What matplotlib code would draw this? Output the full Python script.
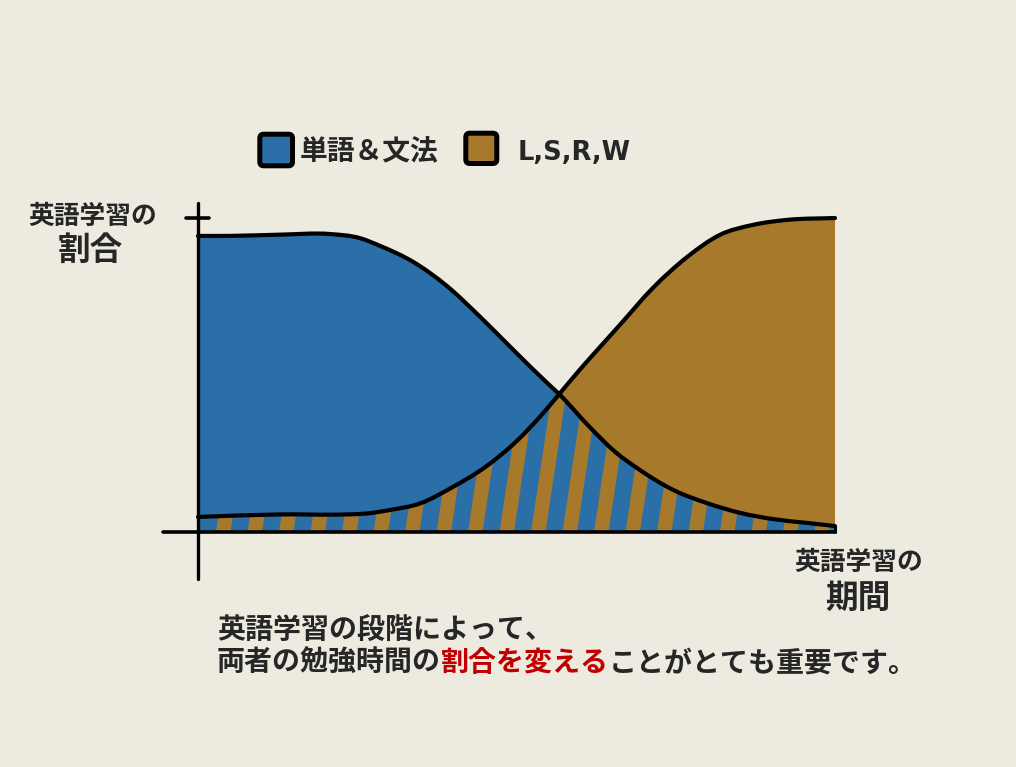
import numpy as np
import matplotlib
matplotlib.use("Agg")
import matplotlib.pyplot as plt
from matplotlib.path import Path
from matplotlib.patches import PathPatch, FancyBboxPatch, Polygon

plt.rcParams['font.family'] = ['Noto Sans CJK JP', 'DejaVu Sans']

# ---------------- data ----------------
series_names = ["単語＆文法", "L,S,R,W"]

# 単語＆文法 (blue) share of study, over the study period (0-100)
blue_x = [0, 5.0, 12.9, 20.7, 25.4, 28.6, 33.8, 39.1, 44.3, 49.5, 54.8, 56.7,
          61.5, 65.5, 69.4, 74.6, 79.9, 85.1, 90.3, 95.6, 100]
blue_y = [94.3, 94.3, 94.7, 94.9, 93.6, 91.1, 86.0, 78.3, 68.5, 58.0, 47.5, 43.9,
          33.4, 25.5, 19.7, 13.4, 9.2, 6.1, 4.1, 2.9, 1.9]

# L,S,R,W (brown) share of study
brown_x = [0, 12.9, 23.4, 26.5, 30.1, 35.0, 39.7, 45.1, 50.2, 54.2, 56.7,
           59.9, 63.1, 66.2, 71.4, 76.8, 81.9, 87.1, 92.5, 100]
brown_y = [4.8, 5.6, 5.6, 5.9, 7.0, 9.2, 14.0, 20.7, 29.3, 37.9, 43.9,
           51.6, 58.9, 65.9, 77.7, 87.6, 94.6, 97.8, 99.4, 100]

y_label = ["英語学習の", "割合"]
x_label = ["英語学習の", "期間"]
caption1 = "英語学習の段階によって、"
caption2 = ["両者の勉強時間の", "割合を変える", "ことがとても重要です。"]

# ---------------- styles ----------------
BG = "#EDEAE0"
BLUE = "#2A6FA8"
BROWN = "#A6792B"
INK = "#262626"
RED = "#C00000"
W, H = 1016, 767


def hermite_segments(xs, ys):
    """Smooth cubic Hermite curve through the points (three-point tangents), as Bezier segments."""
    x = np.asarray(xs, float)
    y = np.asarray(ys, float)
    n = len(x)
    h = np.diff(x)
    d = np.diff(y) / h
    m = np.zeros(n)
    m[0] = d[0]
    m[-1] = d[-1]
    for k in range(1, n - 1):
        m[k] = (h[k] * d[k - 1] + h[k - 1] * d[k]) / (h[k - 1] + h[k])
    P = np.column_stack([x, y])
    segs = []
    for i in range(n - 1):
        c1 = np.array([x[i] + h[i] / 3, y[i] + m[i] * h[i] / 3])
        c2 = np.array([x[i + 1] - h[i] / 3, y[i + 1] - m[i + 1] * h[i] / 3])
        segs.append((c1, c2, P[i + 1]))
    return P, segs


def build_path(start, parts, end_pts):
    verts = [start]
    codes = [Path.MOVETO]
    for P, segs, i0, i1 in parts:
        verts.append(tuple(P[i0]))
        codes.append(Path.LINETO)
        for c1, c2, p2 in segs[i0:i1]:
            verts += [tuple(c1), tuple(c2), tuple(p2)]
            codes += [Path.CURVE4] * 3
    for p in end_pts:
        verts.append(p)
        codes.append(Path.LINETO)
    verts.append(start)
    codes.append(Path.CLOSEPOLY)
    return Path(verts, codes)


def curve_path(P, segs):
    verts = [tuple(P[0])]
    codes = [Path.MOVETO]
    for c1, c2, p2 in segs:
        verts += [tuple(c1), tuple(c2), tuple(p2)]
        codes += [Path.CURVE4] * 3
    return Path(verts, codes)


fig = plt.figure(figsize=(W / 100, H / 100), dpi=100, facecolor=BG)

# main plot axes: data (0..100, 0..100) maps onto the drawn chart area
x0px, x1px = 198, 835
y0px, y1px = 532, 218
ax = fig.add_axes([x0px / W, (H - y0px) / H, (x1px - x0px) / W, (y0px - y1px) / H])
ax.set_xlim(0, 100)
ax.set_ylim(0, 100)
ax.set_axis_off()
ax.patch.set_alpha(0)

Pb, Sb = hermite_segments(blue_x, blue_y)
Pr, Sr = hermite_segments(brown_x, brown_y)

blue_area = build_path((0, 0), [(Pb, Sb, 0, len(Sb))], [(100, 0)])
brown_area = build_path((0, 0), [(Pr, Sr, 0, len(Sr))], [(100, 0)])
ax.add_patch(PathPatch(blue_area, facecolor=BLUE, edgecolor="none", zorder=1, clip_on=False))
ax.add_patch(PathPatch(brown_area, facecolor=BROWN, edgecolor="none", zorder=1.1, clip_on=False))

# region under both curves (shared area) -> striped
ib = int(np.argmin(np.abs(np.array(brown_x) - 56.7)))
iu = int(np.argmin(np.abs(np.array(blue_x) - 56.7)))
shared = build_path((0, 0), [(Pr, Sr, 0, ib), (Pb, Sb, iu, len(Sb))], [(100, 0)])
shared_patch = PathPatch(shared, facecolor=BLUE, edgecolor="none", zorder=2, clip_on=False)
ax.add_patch(shared_patch)

period = 31.5 / 6.37
first = (216 - 198) / 6.37
sw = 14.5 / 6.37
lean = 0.15 * 3.14 / 6.37
Hs = 60
for k in range(20):
    xa = first + k * period
    poly = Polygon([(xa, 0), (xa + sw, 0), (xa + sw + lean * Hs, Hs), (xa + lean * Hs, Hs)],
                   closed=True, facecolor=BROWN, edgecolor="none", zorder=2.5)
    ax.add_patch(poly)
    poly.set_clip_path(shared_patch)

# curves
ax.add_patch(PathPatch(curve_path(Pb, Sb), facecolor="none", edgecolor="black", lw=3.0,
                       zorder=4, clip_on=False, capstyle="round", joinstyle="round"))
ax.add_patch(PathPatch(curve_path(Pr, Sr), facecolor="none", edgecolor="black", lw=3.0,
                       zorder=4, clip_on=False, capstyle="round", joinstyle="round"))
ax.plot([100, 100], [blue_y[-1], 0], color="black", lw=2.2, zorder=4, clip_on=False,
        solid_capstyle="round")

# axes lines
ax.plot([-5.5, 100], [0, 0], color="black", lw=2.6, zorder=5, clip_on=False,
        solid_capstyle="round")
ax.plot([0, 0], [-15, 104.8], color="black", lw=2.4, zorder=5, clip_on=False,
        solid_capstyle="round")
ax.plot([-1.9, 1.7], [100, 100], color="black", lw=2.6, zorder=5, clip_on=False,
        solid_capstyle="round")

# overlay axes in pixel coordinates for text / legend
ov = fig.add_axes([0, 0, 1, 1])
ov.set_xlim(0, W)
ov.set_ylim(H, 0)
ov.set_axis_off()
ov.patch.set_alpha(0)

# legend
ov.add_patch(FancyBboxPatch((259.8, 134.2), 32.7, 31.6,
                            boxstyle="round,pad=0,rounding_size=4",
                            facecolor=BLUE, edgecolor="black", lw=3.6))
ov.add_patch(FancyBboxPatch((465.8, 133.2), 31.0, 30.3,
                            boxstyle="round,pad=0,rounding_size=4",
                            facecolor=BROWN, edgecolor="black", lw=3.6))
ov.text(300, 151.5, series_names[0], fontsize=20, fontweight="bold", color=INK,
        ha="left", va="center")
ov.text(518, 159.5, series_names[1], fontsize=18.5, fontweight="bold", color=INK,
        ha="left", va="baseline", family=["DejaVu Sans"])

# axis labels
ov.text(92.5, 216.5, y_label[0], fontsize=18.5, fontweight="bold", color=INK,
        ha="center", va="center")
ov.text(90, 250, y_label[1], fontsize=23.5, fontweight="bold", color=INK,
        ha="center", va="center")
ov.text(858.5, 562, x_label[0], fontsize=18.5, fontweight="bold", color=INK,
        ha="center", va="center")
ov.text(857.5, 598, x_label[1], fontsize=23.5, fontweight="bold", color=INK,
        ha="center", va="center")

# caption
CAP = 20.15
ov.text(217, 631, caption1, fontsize=CAP, fontweight="bold", color=INK,
        ha="left", va="center")
fig.canvas.draw()
renderer = fig.canvas.get_renderer()
xcur = 217
for txt, col in zip(caption2, [INK, RED, INK]):
    t = ov.text(xcur, 663, txt, fontsize=CAP, fontweight="bold", color=col,
                ha="left", va="center")
    bb = t.get_window_extent(renderer)
    xcur = xcur + bb.width

fig.savefig("out.png", dpi=100, facecolor=BG)
